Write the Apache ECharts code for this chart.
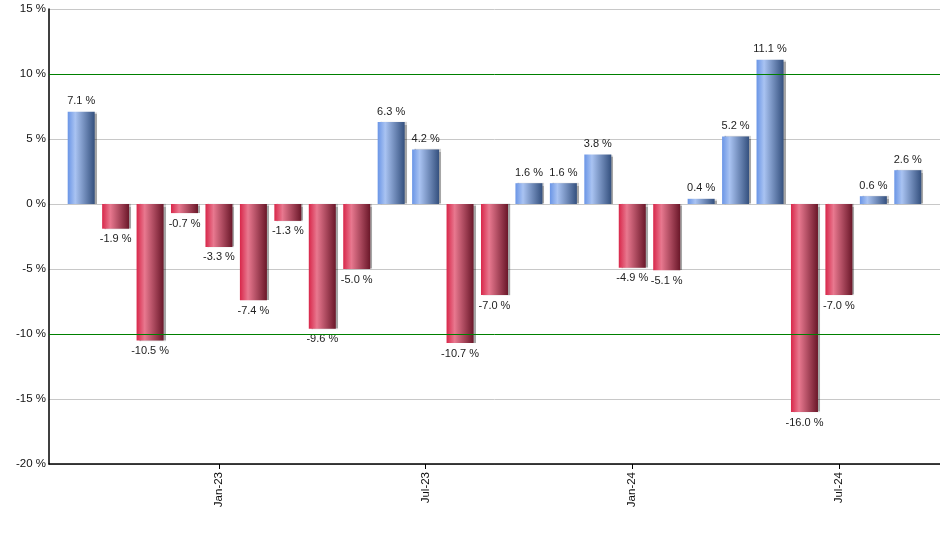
<!DOCTYPE html>
<html>
<head>
<meta charset="utf-8">
<script src="https://cdn.jsdelivr.net/npm/echarts@6/dist/echarts.min.js"></script>
<style>html,body{margin:0;padding:0;background:#fff}#c{width:940px;height:550px}</style>
</head>
<body>
<div id="c"></div>
<script>
const months = ['Sep-22','Oct-22','Nov-22','Dec-22','Jan-23','Feb-23','Mar-23','Apr-23','May-23','Jun-23','Jul-23','Aug-23','Sep-23','Oct-23','Nov-23','Dec-23','Jan-24','Feb-24','Mar-24','Apr-24','May-24','Jun-24','Jul-24','Aug-24','Sep-24'];
const returns = [7.1,-1.9,-10.5,-0.7,-3.3,-7.4,-1.3,-9.6,-5.0,6.3,4.2,-10.7,-7.0,1.6,1.6,3.8,-4.9,-5.1,0.4,5.2,11.1,-16.0,-7.0,0.6,2.6];
const tickLabelMonths = ['Jan-23','Jul-23','Jan-24','Jul-24'];
const thresholdLines = [10,-10];

const chart = echarts.init(document.getElementById('c'));
const blue = new echarts.graphic.LinearGradient(0,0,1,0,[
  {offset:0,color:'#6a95e6'},{offset:0.28,color:'#a9c3f2'},{offset:1,color:'#34507e'}]);
const red = new echarts.graphic.LinearGradient(0,0,1,0,[
  {offset:0,color:'#d8274a'},{offset:0.3,color:'#e8788f'},{offset:1,color:'#6a1729'}]);
const tickIdx = tickLabelMonths.map(m => months.indexOf(m));
const data = returns.map((v,i) => ({
  value:[i,v],
  itemStyle:{color: v>=0 ? blue : red},
  label:{position: v>=0 ? 'top' : 'bottom'}
}));
chart.setOption({
  animation:false,
  grid:{left:49,top:9,right:0,bottom:86,containLabel:false},
  xAxis:{
    type:'value', min:-0.935, max:24.935,
    axisLine:{onZero:false,lineStyle:{color:'#000',width:1.5}},
    splitLine:{show:false},
    axisTick:{show:true,customValues:tickIdx,length:5,lineStyle:{color:'#000'}},
    axisLabel:{customValues:tickIdx,rotate:90,fontFamily:'Liberation Sans, Arial',fontSize:11.5,color:'#111',margin:8,
      formatter:v=>months[Math.round(v)]}
  },
  yAxis:{
    type:'value', min:-20, max:15, interval:5,
    axisLine:{show:true,onZero:false,lineStyle:{color:'#000',width:1.5}},
    axisTick:{show:false},
    splitLine:{show:true,lineStyle:{color:'#c8c8c8',width:1}},
    axisLabel:{fontFamily:'Liberation Sans, Arial',fontSize:11.5,color:'#111',margin:3,formatter:v=>v+' %'}
  },
  series:[{
    type:'bar', barWidth:27, data:data,
    itemStyle:{shadowColor:'rgba(0,0,0,0.35)',shadowOffsetX:2,shadowOffsetY:0,shadowBlur:1},
    label:{show:true,distance:5,fontFamily:'Liberation Sans, Arial',fontSize:11,color:'#222',
      formatter:p=>p.value[1].toFixed(1)+' %'},
    markLine:{
      silent:true, symbol:['none','none'], label:{show:false},
      lineStyle:{color:'#008000',type:'solid',width:1,shadowBlur:0,shadowColor:'transparent',opacity:1},
      emphasis:{disabled:true},
      data: thresholdLines.map(y=>({yAxis:y}))
    }
  }]
});
</script>
</body>
</html>
